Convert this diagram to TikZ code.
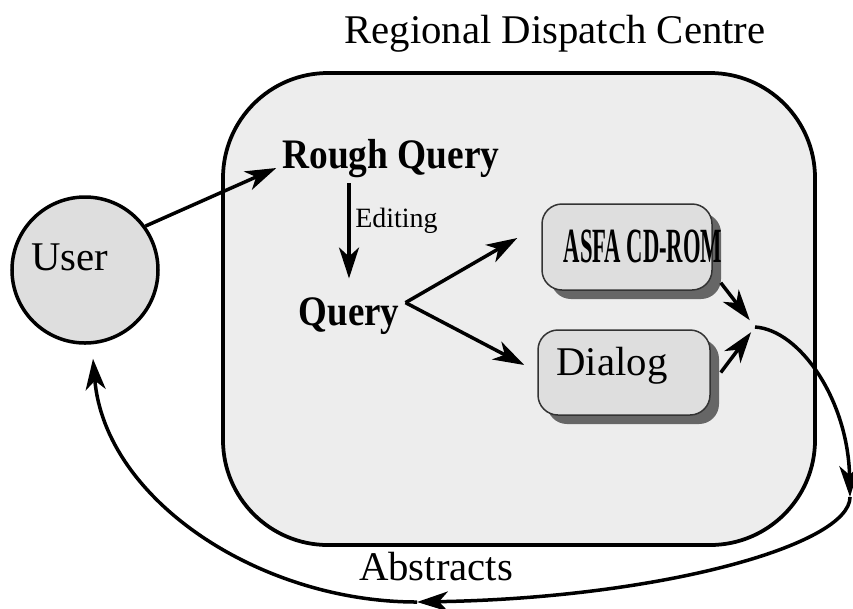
\documentclass[tikz,border=0pt]{standalone}
\usepackage{fontspec}
\setmainfont{Liberation Serif}
\usetikzlibrary{arrows.meta, shadows, calc}

\begin{document}
\begin{tikzpicture}[x=0.2mm, y=-0.2mm,
    arr/.style={line width=0.7mm, -{Stealth[length=6.2mm, width=4mm, inset=1.8mm]}},
    station/.style={draw=black!80, line width=0.3mm, fill=black!13, rounded corners=4mm,
        minimum width=34mm, minimum height=17.2mm,
        drop shadow={shadow xshift=1.8mm, shadow yshift=-1.8mm, fill=black!60, opacity=1}},
    bigfont/.style={font=\fontsize{23.2}{27}\selectfont},
    boldfont/.style={font=\fontsize{23.9}{28}\selectfont\bfseries}
    ]
    \useasboundingbox (0,0) rectangle (853,608);
    \node[bigfont, anchor=base] (title) at (555,43) {Regional Dispatch Centre};
    \node[draw, line width=0.75mm, fill=black!7, rounded corners=21mm,
        minimum width=118.4mm, minimum height=94.4mm] (rdc) at (519,309) {};
    \node[circle, draw, line width=0.7mm, fill=black!13, minimum size=29.2mm, inner sep=0] (user) at (85,270) {};
    \node[bigfont, anchor=base] (usertext) at (70,270) {User};
    \node[boldfont, anchor=base] (rough) at (391,168) {\scalebox{0.89}[1]{Rough Query}};
    \node[boldfont, anchor=base] (query) at (349,325) {\scalebox{0.88}[1]{Query}};
    \node[font=\fontsize{15.9}{19}\selectfont, anchor=base west, inner sep=0] (editing) at (355,227) {Editing};
    \node[station] (asfa) at (627,247) {};
    \node[font=\fontsize{28}{32}\selectfont\bfseries, anchor=base] (asfatext) at (643,262) {\scalebox{0.46}[1]{ASFA CD-ROM}};
    \node[station, minimum width=34.4mm, minimum height=17mm] (dialog) at (624,372.5) {};
    \node[bigfont, anchor=base] (dialogtext) at (612,375) {Dialog};
    \node[bigfont, anchor=base] (abstracts) at (436,580) {Abstracts};

    \coordinate (fork) at ([yshift=2.6mm]query.east);
    \coordinate (merge) at (755,327);
    \coordinate (turn) at (850,497);
    \coordinate (back) at (417,602);

    \draw[arr] (user.36) -- (rough.base west);
    \draw[arr, shorten >=2.5mm] (rough.south -| query.north) -- (query.north);
    \draw[arr] (fork) -- ([xshift=-4.8mm, yshift=1.8mm]asfa.west);
    \draw[arr] (fork) -- ([xshift=-2.6mm, yshift=1.5mm]dialog.west);
    \draw[arr, shorten >=1.7mm] ([xshift=1.6mm, yshift=1.6mm]asfa.south east) -- (merge);
    \draw[arr, shorten >=1.3mm] ([xshift=2mm]dialog.east) -- (merge);
    \draw[arr] (merge) .. controls (800,330) and (848,400) .. (turn);
    \draw[arr] (turn) .. controls (850,545) and (660,598) .. (back);
    \draw[arr] (back) .. controls (260,602) and (105,500) .. ([xshift=1.6mm, yshift=-2.8mm]user.south);
\end{tikzpicture}
\end{document}
